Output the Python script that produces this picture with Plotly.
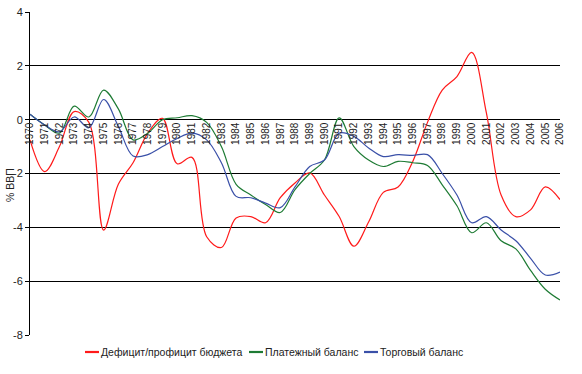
import plotly.graph_objects as go

years = list(range(1970, 2007))
budget = [-0.75, -1.93, -1.0, 0.3, -0.1, -4.1, -2.4, -1.6, -0.5, 0.05, -1.64, -1.4,
          -4.35, -4.75, -3.65, -3.6, -3.83, -2.9, -2.35, -1.98, -2.8, -3.6, -4.7, -3.8,
          -2.7, -2.5, -1.55, -0.1, 1.1, 1.6, 2.5, 0.25, -2.8, -3.6, -3.35, -2.5, -2.97]
payments = [0.2, -0.2, -0.5, 0.5, 0.1, 1.1, 0.4, -0.75, -0.5, 0.0, 0.07, 0.15,
            -0.1, -1.0, -2.4, -2.8, -3.15, -3.45, -2.6, -2.0, -1.5, 0.07, -1.0, -1.5,
            -1.74, -1.55, -1.6, -1.7, -2.42, -3.2, -4.2, -3.83, -4.5, -4.8, -5.6, -6.3, -6.7]
trade = [0.2, -0.2, -0.45, 0.1, -0.3, 0.75, -0.25, -1.35, -1.3, -1.0, -0.7, -0.5,
         -0.75, -1.6, -2.85, -2.9, -3.1, -3.27, -2.5, -1.74, -1.5, -0.5, -0.62, -1.05,
         -1.37, -1.3, -1.33, -1.3, -2.0, -2.8, -3.83, -3.6, -4.1, -4.5, -5.15, -5.77, -5.66]
names = ["Дефицит/профицит бюджета", "Платежный баланс", "Торговый баланс"]
colors = ["#ff1a1a", "#1e7b34", "#3a50a8"]
yticks = [4, 2, 0, -2, -4, -6, -8]

W, H = 582, 374
# plot area in window pixels: x 30..560, y 12..335
L, R, T, B = 30, W - 560, 12, H - 335
pw, ph = W - L - R, H - T - B


def px(x):
    return (x - L) / pw


def py(y):
    return (H - B - y) / ph


fig = go.Figure()
for vals, nm, c in zip([budget, payments, trade], names, colors):
    fig.add_trace(go.Scatter(x=years, y=vals, name=nm, mode="lines",
                             line=dict(color=c, width=1.2, shape="spline")))

fig.update_layout(
    width=W, height=H,
    margin=dict(l=L, r=R, t=T, b=B, autoexpand=False),
    paper_bgcolor="white", plot_bgcolor="white",
    font=dict(family="Liberation Sans, Arial, sans-serif", color="#222"),
    showlegend=False,
    xaxis=dict(range=[1970, 2006], tickmode="array", tickvals=years,
               ticktext=[str(y) for y in years], tickangle=-90,
               tickfont=dict(size=10, color="#222"),
               anchor="free", position=8/12, showgrid=False, showline=False,
               zeroline=False, ticks="", automargin=False),
    yaxis=dict(range=[-8, 4], tickvals=yticks, ticktext=[str(v) for v in yticks],
               showgrid=True, gridcolor="black", gridwidth=1,
               zeroline=True, zerolinecolor="black", zerolinewidth=1,
               showline=True, linecolor="black", linewidth=1,
               ticks="outside", ticklen=4, tickcolor="black",
               tickfont=dict(size=11, color="#222"), automargin=False),
)
fig.add_annotation(text="% ВВП", xref="paper", yref="paper",
                   x=px(10), y=py(185), textangle=-90, showarrow=False,
                   font=dict(size=10.5, color="#222"), xanchor="center", yanchor="middle")

# legend drawn as line segments + labels
leg_x = [85, 249, 364]
for x0, nm, c in zip(leg_x, names, colors):
    fig.add_shape(type="line", xref="paper", yref="paper",
                  x0=px(x0), x1=px(x0 + 14), y0=py(352), y1=py(352),
                  line=dict(color=c, width=2.2))
    fig.add_annotation(text=nm, xref="paper", yref="paper", x=px(x0 + 14), y=py(352),
                       xanchor="left", yanchor="middle", showarrow=False,
                       font=dict(size=10.5, color="#222"))
fig.write_html("out.html", config={"displayModeBar": False},
               post_script="document.body.style.margin='0';document.body.style.padding='0';")
